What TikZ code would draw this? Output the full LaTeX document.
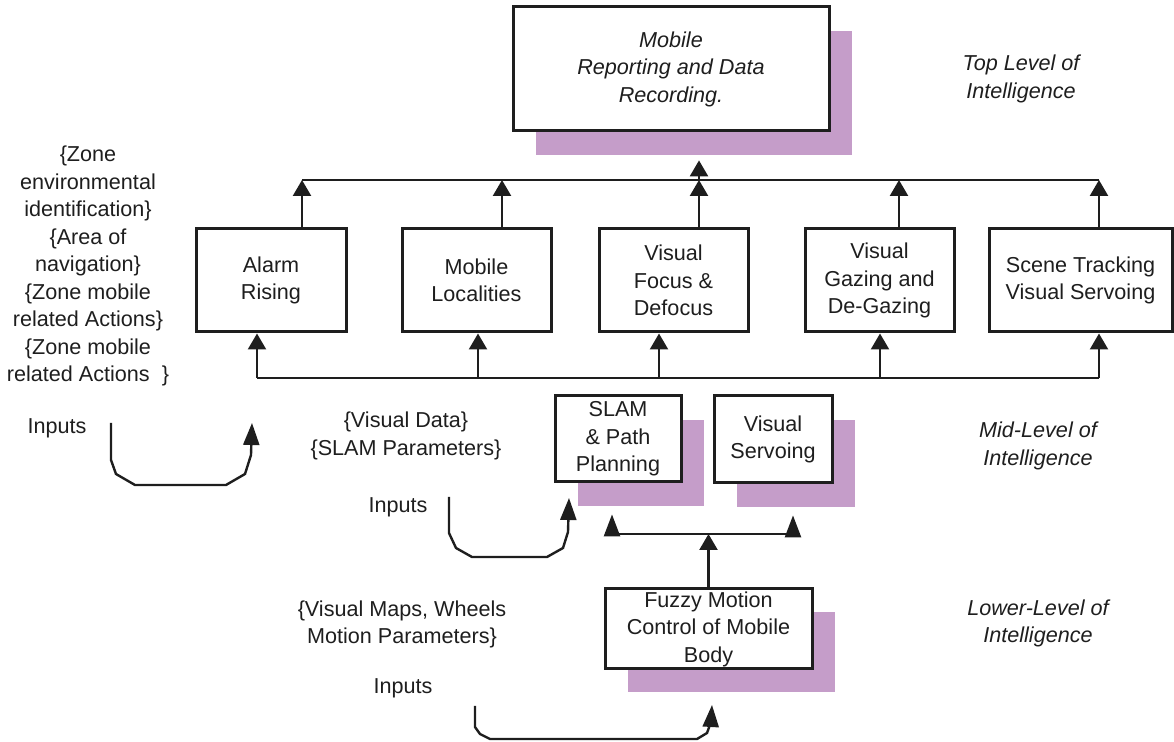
\documentclass[tikz,border=0pt]{standalone}
\usepackage{fontspec}
\setmainfont{Liberation Sans}
\usetikzlibrary{arrows.meta,calc}
\definecolor{shade}{RGB}{197,157,201}
\definecolor{ink}{RGB}{30,30,30}
\begin{document}
\begin{tikzpicture}[x=0.5pt,y=-0.5pt,
  font=\fontsize{10.8}{13.75}\selectfont,
  every node/.style={text=ink},
  box/.style={draw=ink,line width=1.5pt,fill=white,align=center,inner sep=0pt},
  shadowbox/.style={fill=shade,inner sep=0pt},
  conn/.style={line width=1.2pt,draw=ink},
  arr/.style={conn,-{Triangle[length=8pt,width=9pt]}},
  arrl/.style={conn,-{Triangle[length=11pt,width=8pt]}},
  lbl/.style={align=center,inner sep=0pt},
  ital/.style={lbl,font=\fontsize{10.8}{13.75}\selectfont\itshape}]
\useasboundingbox (0,0) rectangle (1174,742);

% shadows
\node[shadowbox,minimum width=158pt,minimum height=62pt] (topsh) at (694,93) {};
\node[shadowbox,minimum width=63pt,minimum height=43pt] (slamsh) at (641,463) {};
\node[shadowbox,minimum width=59pt,minimum height=43.5pt] (vservsh) at (796,463.5) {};
\node[shadowbox,minimum width=103.5pt,minimum height=40pt] (fuzzysh) at (731.5,652) {};

% boxes
\node[box,minimum width=158pt,minimum height=62pt,font=\fontsize{10.8}{13.75}\selectfont\itshape] (top) at (671,69) {Mobile\\Reporting and Data\\Recording.};
\node[box,minimum width=75pt,minimum height=51.5pt] (alarm) at (271,280.5) {Alarm\\Rising};
\node[box,minimum width=74.5pt,minimum height=51.5pt] (mobloc) at (476.5,280.5) {Mobile\\Localities};
\node[box,minimum width=74.5pt,minimum height=51.5pt] (focus) at (673.5,280.5) {Visual\\Focus \&\\Defocus};
\node[box,minimum width=74.5pt,minimum height=51.5pt] (gazing) at (879.5,280.5) {Visual\\Gazing and\\De-Gazing};
\node[box,minimum width=91.5pt,minimum height=51.5pt] (scene) at (1080.5,280.5) {Scene Tracking\\Visual Servoing};
\node[box,minimum width=63pt,minimum height=43pt] (slam) at (618,439) {SLAM\\\& Path\\Planning};
\node[box,minimum width=59pt,minimum height=43.5pt] (vserv) at (773,439.5) {Visual\\Servoing};
\node[box,minimum width=103.5pt,minimum height=40pt] (fuzzy) at (708.5,629) {Fuzzy Motion\\Control of Mobile\\Body};

% top bus
\coordinate (tb1) at (302,180);
\coordinate (tb2) at (502,180);
\coordinate (tb3) at (699,180);
\coordinate (tb4) at (899,180);
\coordinate (tb5) at (1099,180);
\draw[conn] (tb1) -- (tb5);
\draw[arr] (alarm.north -| tb1) -- (tb1);
\draw[arr] (mobloc.north -| tb2) -- (tb2);
\draw[arr] (focus.north -| tb3) -- (tb3);
\draw[arr] (gazing.north -| tb4) -- (tb4);
\draw[arr] (scene.north -| tb5) -- (tb5);
\draw[arr,shorten >=2.5pt] (tb3) -- (topsh.south -| tb3);

% bottom bus
\coordinate (bb1) at (257,378);
\coordinate (bb2) at (478,378);
\coordinate (bb3) at (659,378);
\coordinate (bb4) at (880,378);
\coordinate (bb5) at (1099,378);
\draw[conn] (bb1) -- (bb5);
\draw[arr] (bb1) -- (bb1 |- alarm.south);
\draw[arr] (bb2) -- (bb2 |- mobloc.south);
\draw[arr] (bb3) -- (bb3 |- focus.south);
\draw[arr] (bb4) -- (bb4 |- gazing.south);
\draw[arr] (bb5) -- (bb5 |- scene.south);

% mid branch
\coordinate (br1) at (612,534);
\coordinate (br2) at (793,534);
\draw[conn] (br1) -- (br2);
\draw[arrl,shorten >=4pt] (br1) -- (br1 |- slamsh.south);
\draw[arrl,shorten >=4pt] (br2) -- (br2 |- vservsh.south);
\draw[arr] (fuzzy.north) -- (fuzzy.north |- br1);

% input curves
\coordinate (in1s) at (111,423);
\coordinate (in1e) at (252,423);
\draw[arrl] (in1s) -- (111,460) -- (116,474) -- (135,485) -- (226,485) -- (245,474) -- (251,455) -- (in1e);
\coordinate (in2s) at (449,497);
\coordinate (in2e) at (569,498);
\draw[arrl] (in2s) -- (449,533) -- (456,548) -- (472,557) -- (547,557) -- (563,548) -- (568,532) -- (in2e);
\coordinate (in3s) at (475,706);
\coordinate (in3e) at (712,705);
\draw[arrl] (in3s) -- (475,727) -- (480,734) -- (490,739) -- (697,739) -- (707,733) -- (711,722) -- (in3e);

% labels
\node[lbl] (zones) at (88,266) {\{Zone\\environmental\\identification\}\\\{Area of\\navigation\}\\\{Zone mobile\\related Actions\}\\\{Zone mobile\\related Actions\ \ \}};
\node[lbl] (inp1) at (57,428) {Inputs};
\node[lbl] (vdata) at (406,436) {\{Visual Data\}\\\{SLAM Parameters\}};
\node[lbl] (inp2) at (398,507) {Inputs};
\node[lbl] (vmaps) at (402,624.5) {\{Visual Maps, Wheels\\Motion Parameters\}};
\node[lbl] (inp3) at (403,688) {Inputs};
\node[ital] (toplev) at (1021,79) {Top Level of\\Intelligence};
\node[ital] (midlev) at (1038,446) {Mid-Level of\\Intelligence};
\node[ital] (lowlev) at (1038,623.5) {Lower-Level of\\Intelligence};
\end{tikzpicture}
\end{document}
